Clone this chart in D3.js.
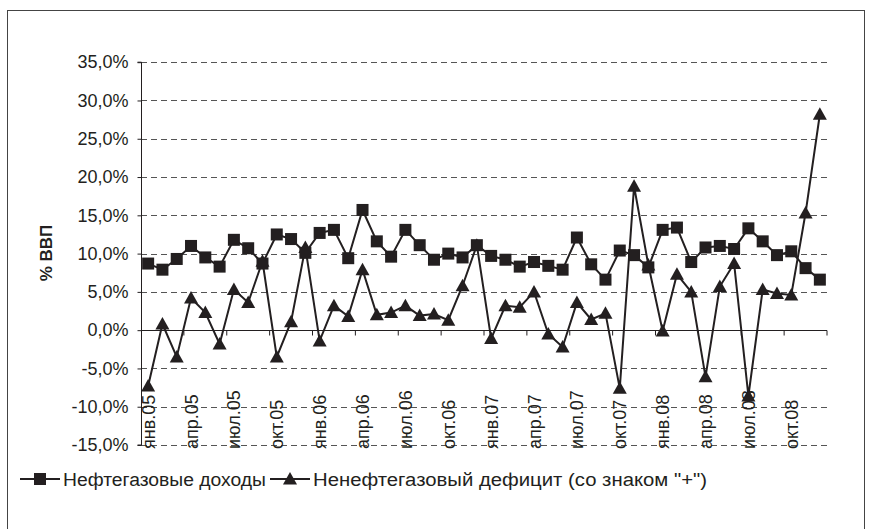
<!DOCTYPE html>
<html>
<head>
<meta charset="utf-8">
<script src="https://cdn.jsdelivr.net/npm/d3@7"></script>
<style>
  html, body { margin: 0; padding: 0; background: #fff; }
  svg { display: block; }
  text { font-family: "Liberation Sans", Arial, sans-serif; fill: #231f20; }
</style>
</head>
<body>
<svg id="chart" width="871" height="529"></svg>
<script>
// ---- data ----
const months = ["янв", "фев", "мар", "апр", "май", "июн", "июл", "авг", "сен", "окт", "ноя", "дек"];
const years = ["05", "06", "07", "08"];
const categories = years.flatMap(y => months.map(m => m + "." + y));
const oilGasRevenue = [
  8.7, 7.9, 9.3, 11.0, 9.5, 8.3, 11.8, 10.7, 8.7, 12.5, 11.9, 10.1,
  12.7, 13.1, 9.4, 15.7, 11.6, 9.6, 13.1, 11.1, 9.2, 10.0, 9.5, 11.1,
  9.7, 9.2, 8.3, 8.9, 8.4, 7.9, 12.1, 8.6, 6.6, 10.4, 9.8, 8.2,
  13.1, 13.4, 8.9, 10.8, 11.0, 10.6, 13.3, 11.6, 9.8, 10.3, 8.1, 6.6
];
const nonOilDeficit = [
  -7.3, 0.8, -3.5, 4.2, 2.3, -1.8, 5.3, 3.6, 9.0, -3.5, 1.1, 10.8,
  -1.4, 3.2, 1.8, 7.9, 2.0, 2.3, 3.2, 1.9, 2.1, 1.3, 5.8, 11.1,
  -1.1, 3.2, 3.0, 5.0, -0.5, -2.2, 3.6, 1.4, 2.2, -7.6, 18.8, 8.5,
  -0.1, 7.3, 5.0, -6.1, 5.7, 8.7, -8.6, 5.3, 4.8, 4.6, 15.3, 28.2
];
const yTicks = [-15, -10, -5, 0, 5, 10, 15, 20, 25, 30, 35];
const seriesNames = ["Нефтегазовые доходы", "Ненефтегазовый дефицит (со знаком \"+\")"];
const yTitle = "% ВВП";

// ---- layout ----
const svg = d3.select("#chart");
const plotLeft = 141, plotRight = 827, plotTop = 62.2, plotBottom = 445;
const ink = "#231f20";

svg.append("rect").attr("x", 7.5).attr("y", 10.5).attr("width", 857).attr("height", 540)
  .attr("fill", "none").attr("stroke", "#444").attr("stroke-width", 1);

const x = d3.scaleBand().domain(categories).range([plotLeft, plotRight]).padding(0);
const cx = c => x(c) + x.bandwidth() / 2;
const y = d3.scaleLinear().domain([-15, 35]).range([plotBottom, plotTop]);

// gridlines
svg.append("g").selectAll("line").data(yTicks.filter(v => v !== 0)).join("line")
  .attr("x1", plotLeft).attr("x2", plotRight)
  .attr("y1", d => Math.round(y(d)) + 0.5).attr("y2", d => Math.round(y(d)) + 0.5)
  .attr("stroke", "#555").attr("stroke-width", 1).attr("stroke-dasharray", "6,4");

// y axis
const yAxis = d3.axisLeft(y).tickValues(yTicks).tickSize(4).tickPadding(9)
  .tickFormat(d => d3.format(".1f")(d).replace(".", ",").replace("−", "-") + "%");
const gy = svg.append("g").attr("transform", `translate(${plotLeft + 0.5},0)`).call(yAxis);
gy.select(".domain").attr("stroke", ink).attr("d", `M-4,${y(35)}H0V${y(-15)}H-4`);
gy.selectAll(".tick line").attr("stroke", ink);
gy.selectAll(".tick text").attr("font-size", 18).attr("fill", ink)
  .style("font-family", "'Liberation Sans', Arial, sans-serif");

// zero line (category axis)
const y0 = Math.round(y(0)) + 0.5;
svg.append("line").attr("x1", plotLeft).attr("x2", plotRight).attr("y1", y0).attr("y2", y0)
  .attr("stroke", ink).attr("stroke-width", 1.2);
// category ticks every 3 months at boundaries
const tickIdx = d3.range(3, categories.length + 1, 3);
svg.append("g").selectAll("line").data(tickIdx).join("line")
  .attr("x1", i => (i < categories.length ? x(categories[i]) : plotRight))
  .attr("x2", i => (i < categories.length ? x(categories[i]) : plotRight))
  .attr("y1", y0).attr("y2", y0 + 5)
  .attr("stroke", ink).attr("stroke-width", 1);

// category labels (low position, rotated)
const labelCats = categories.filter((c, i) => i % 3 === 0);
svg.append("g").selectAll("text").data(labelCats).join("text")
  .attr("transform", c => `translate(${cx(c) + 6.5},449) rotate(-90)`)
  .attr("font-size", 18).attr("text-anchor", "start")
  .text(c => c);

// y title
svg.append("text").attr("transform", `translate(52,253) rotate(-90)`)
  .attr("text-anchor", "middle").attr("font-size", 17).attr("font-weight", "bold")
  .text(yTitle);

// series
const line = d3.line().x((d, i) => cx(categories[i])).y(d => y(d));
svg.append("path").datum(oilGasRevenue).attr("d", line)
  .attr("fill", "none").attr("stroke", ink).attr("stroke-width", 2);
svg.append("path").datum(nonOilDeficit).attr("d", line)
  .attr("fill", "none").attr("stroke", ink).attr("stroke-width", 2);

const sq = 12;
svg.append("g").selectAll("rect").data(oilGasRevenue).join("rect")
  .attr("x", (d, i) => cx(categories[i]) - sq / 2).attr("y", d => y(d) - sq / 2)
  .attr("width", sq).attr("height", sq).attr("fill", ink);
const triPath = "M0,-7L7,5.5L-7,5.5Z";
svg.append("g").selectAll("path").data(nonOilDeficit).join("path")
  .attr("transform", (d, i) => `translate(${cx(categories[i])},${y(d)})`)
  .attr("d", triPath).attr("fill", ink);

// legend
const ly = 479;
const leg = svg.append("g");
const legendItems = [
  { x: 20, textLen: 203 },
  { x: 270, textLen: 394 }
];
seriesNames.forEach((name, k) => {
  const lx = legendItems[k].x;
  leg.append("line").attr("x1", lx).attr("x2", lx + 40).attr("y1", ly).attr("y2", ly)
    .attr("stroke", ink).attr("stroke-width", 2);
  if (k === 0) {
    leg.append("rect").attr("x", lx + 20 - sq / 2).attr("y", ly - sq / 2)
      .attr("width", sq).attr("height", sq).attr("fill", ink);
  } else {
    leg.append("path").attr("transform", `translate(${lx + 20},${ly})`).attr("d", triPath).attr("fill", ink);
  }
  leg.append("text").attr("x", lx + 43).attr("y", ly + 6.5).attr("font-size", 18)
    .attr("textLength", legendItems[k].textLen).attr("lengthAdjust", "spacingAndGlyphs")
    .text(name);
});
</script>
</body>
</html>
